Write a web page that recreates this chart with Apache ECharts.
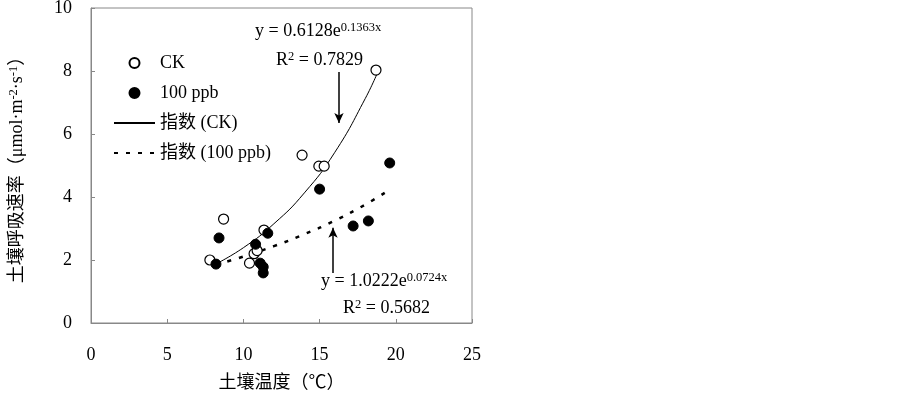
<!DOCTYPE html>
<html>
<head>
<meta charset="utf-8">
<script src="https://cdn.jsdelivr.net/npm/echarts@6/dist/echarts.min.js"></script>
<style>
html,body{margin:0;padding:0;background:#fff;}
#chart{width:903px;height:393px;}
</style>
</head>
<body>
<div id="chart"></div>
<script>
// 散点数据 [土壤温度, 土壤呼吸速率]
var ckPoints = [[7.8,2.0],[8.7,3.3],[10.4,1.9],[10.7,2.2],[10.9,2.3],[11.35,2.95],[13.85,5.33],[14.95,4.98],[15.3,4.98],[18.7,8.03]];
var ppbPoints = [[8.2,1.87],[8.4,2.7],[10.8,2.5],[11.6,2.85],[11.1,1.9],[11.3,1.78],[11.3,1.59],[15.0,4.25],[17.2,3.08],[18.2,3.24],[19.6,5.08]];
// 趋势线
var ckTrend = [[8.1,1.85],[10,2.39],[12,3.15],[14,4.13],[16,5.42],[18,7.13],[18.9,8.06]];
var ppbTrend = [[8.2,1.85],[10,2.11],[12,2.44],[14,2.82],[16,3.25],[18,3.76],[19.4,4.17]];
var xTicks = [0,5,10,15,20,25];
var yTicks = [0,2,4,6,8,10];
// 箭头 [起点, 终点]
var ckArrow = [[16.27,7.97],[16.27,6.35]];
var ppbArrow = [[15.88,1.59],[15.88,3.02]];

var FONT = '"Liberation Serif", "Noto Sans CJK SC", serif';
var myChart = echarts.init(document.getElementById('chart'));

function eqText(main, sup) {
	return '{m|' + main + '}{s|' + sup + '}';
}
var richStyle = {
	m: {fontSize: 18, fontFamily: FONT, color: '#000'},
	s: {fontSize: 12.5, fontFamily: FONT, color: '#000', verticalAlign: 'top', padding: [0,0,8,0]}
};
var hideIcon = {color: 'transparent', borderWidth: 0};

var option = {
	animation: false,
	backgroundColor: '#fff',
	grid: {
		left: 91, right: 431, top: 8, bottom: 70,
		outerBoundsMode: 'none',
		containLabel: false,
		show: true, borderColor: '#888', borderWidth: 1
	},
	legend: {
		orient: 'vertical',
		left: 113, top: 53,
		padding: 0,
		itemWidth: 41, itemHeight: 10, itemGap: 10,
		textStyle: {fontSize: 18, fontFamily: FONT, color: '#000', lineHeight: 20},
		data: [
			{name: 'CK'},
			{name: '100 ppb'},
			{name: '指数 (CK)', itemStyle: hideIcon},
			{name: '指数 (100 ppb)', itemStyle: hideIcon}
		]
	},
	xAxis: {
		type: 'value',
		min: xTicks[0], max: xTicks[xTicks.length-1], interval: 5,
		name: '土壤温度（℃）', nameLocation: 'middle', nameGap: 51,
		nameTextStyle: {fontSize: 18, fontFamily: FONT, color: '#000'},
		axisLine: {lineStyle: {color: '#888', width: 1}},
		axisTick: {inside: true, length: 4, lineStyle: {color: '#888'}},
		axisLabel: {fontSize: 18, fontFamily: FONT, color: '#000', margin: 23},
		splitLine: {show: false}
	},
	yAxis: {
		type: 'value',
		min: yTicks[0], max: yTicks[yTicks.length-1], interval: 2,
		name: '{m|土壤呼吸速率（μmol·m}{s|-2}{m|·s}{s|-1}{m|）}',
		nameLocation: 'middle', nameGap: 63, nameRotate: 90,
		nameTextStyle: {fontSize: 18, fontFamily: FONT, color: '#000', rich: richStyle},
		axisLine: {show: true, lineStyle: {color: '#888', width: 1}},
		axisTick: {show: true, inside: true, length: 4, lineStyle: {color: '#888'}},
		axisLabel: {fontSize: 18, fontFamily: FONT, color: '#000', margin: 19},
		splitLine: {show: false}
	},
	series: [
		{
			name: 'CK',
			type: 'scatter',
			symbol: 'circle',
			symbolSize: 10,
			itemStyle: {color: '#fff', borderColor: '#000', borderWidth: 1.2, opacity: 1},
			data: ckPoints,
			z: 3
		},
		{
			name: '100 ppb',
			type: 'scatter',
			symbol: 'circle',
			symbolSize: 10,
			itemStyle: {color: '#000', borderColor: '#000', borderWidth: 1, opacity: 1},
			data: ppbPoints,
			z: 4
		},
		{
			name: '指数 (CK)',
			type: 'line',
			smooth: true,
			symbol: 'none',
			lineStyle: {color: '#000', width: 1},
			itemStyle: {color: '#000'},
			data: ckTrend,
			z: 2,
			markLine: {
				silent: true,
				symbol: ['none', 'arrow'],
				symbolSize: [7, 10],
				label: {show: false},
				lineStyle: {color: '#000', width: 1.5, type: 'solid'},
				data: [[{coord: ckArrow[0]}, {coord: ckArrow[1]}]]
			}
		},
		{
			name: '指数 (100 ppb)',
			type: 'line',
			smooth: true,
			symbol: 'none',
			lineStyle: {color: '#000', width: 2.5, type: [4, 8]},
			itemStyle: {color: '#000'},
			data: ppbTrend,
			z: 2,
			markLine: {
				silent: true,
				symbol: ['none', 'arrow'],
				symbolSize: [7, 10],
				label: {show: false},
				lineStyle: {color: '#000', width: 1.5, type: 'solid'},
				data: [[{coord: ppbArrow[0]}, {coord: ppbArrow[1]}]]
			}
		}
	],
	graphic: [
		{type: 'text', left: 255, top: 21, style: {text: eqText('y = 0.6128e', '0.1363x'), rich: richStyle}},
		{type: 'text', left: 276, top: 50, style: {text: '{m|R}{s|2}{m| = 0.7829}', rich: richStyle}},
		{type: 'text', left: 321, top: 271, style: {text: eqText('y = 1.0222e', '0.0724x'), rich: richStyle}},
		{type: 'text', left: 343, top: 298, style: {text: '{m|R}{s|2}{m| = 0.5682}', rich: richStyle}}
	]
};
myChart.setOption(option);
</script>
</body>
</html>
